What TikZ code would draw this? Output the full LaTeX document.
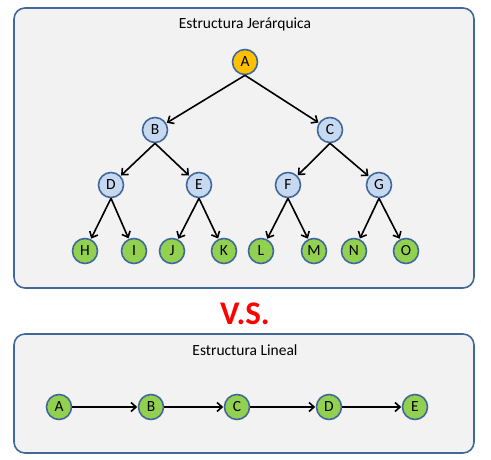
\documentclass[tikz,border=0pt]{standalone}
\usepackage{fontspec}
\setmainfont{Carlito}
\usetikzlibrary{arrows.meta}
\definecolor{boxline}{HTML}{41689A}
\definecolor{boxfill}{HTML}{F2F2F2}
\definecolor{rootfill}{HTML}{FFC000}
\definecolor{innerfill}{HTML}{C6D9F1}
\definecolor{leaffill}{HTML}{92D050}
\tikzset{
  panel/.style={draw=boxline, line width=1.6pt, fill=boxfill, rounded corners=11pt},
  vertex/.style={circle, draw=boxline, line width=1.6pt, minimum size=25pt, inner sep=0pt, font=\fontsize{15.5}{17}\selectfont},
  rootv/.style={vertex, fill=rootfill},
  innerv/.style={vertex, fill=innerfill},
  leafv/.style={vertex, fill=leaffill},
  link/.style={line width=1.6pt, -{Straight Barb[length=5pt, width=9pt, line width=1.6pt]}, shorten >=0.5pt}
}
\begin{document}
\begin{tikzpicture}[x=1pt, y=-1pt]
            \useasboundingbox (0,0) rectangle (491,460);
            {\fontsize{15.5}{17}\selectfont

            % Drawing panel of the tree
            \draw [panel] (14,8) rectangle (474,288);
            \node (treetitle) at (245,24) { Estructura Jerárquica };

            % Marking vertices of the tree
            \node [rootv]  (tA) at (245,62)  { A };
            \node [innerv] (tB) at (155,130) { B };
            \node [innerv] (tC) at (330,130) { C };
            \node [innerv] (tD) at (111,185) { D };
            \node [innerv] (tE) at (199,185) { E };
            \node [innerv] (tF) at (288,185) { F };
            \node [innerv] (tG) at (379,185) { G };
            \node [leafv]  (tH) at (85,251)  { H };
            \node [leafv]  (tI) at (134,251) { I };
            \node [leafv]  (tJ) at (172,251) { J };
            \node [leafv]  (tK) at (224,251) { K };
            \node [leafv]  (tL) at (261,251) { L };
            \node [leafv]  (tM) at (314,251) { M };
            \node [leafv]  (tN) at (354,251) { N };
            \node [leafv]  (tO) at (406,251) { O };

            % Drawing edges of the tree
            \draw [link] (tA.south) -- (tB);
            \draw [link] (tA.south) -- (tC);
            \draw [link] (tB.south) -- (tD);
            \draw [link] (tB.south) -- (tE);
            \draw [link] (tC.south) -- (tF);
            \draw [link] (tC.south) -- (tG);
            \draw [link] (tD.south) -- (tH);
            \draw [link] (tD.south) -- (tI);
            \draw [link] (tE.south) -- (tJ);
            \draw [link] (tE.south) -- (tK);
            \draw [link] (tF.south) -- (tL);
            \draw [link] (tF.south) -- (tM);
            \draw [link] (tG.south) -- (tN);
            \draw [link] (tG.south) -- (tO);

            % Marking the versus
            \node [text=red, font=\fontsize{33}{36}\selectfont\bfseries] (versus) at (245,314) { V.S. };

            % Drawing panel of the line
            \draw [panel] (14,334) rectangle (474,453);
            \node (linetitle) at (245,350) { Estructura Lineal };

            % Marking vertices of the line
            \node [leafv] (lA) at (59,407)  { A };
            \node [leafv] (lB) at (151,407) { B };
            \node [leafv] (lC) at (237,407) { C };
            \node [leafv] (lD) at (329,407) { D };
            \node [leafv] (lE) at (415,407) { E };

            % Drawing edges of the line
            \draw [link] (lA) -- (lB);
            \draw [link] (lB) -- (lC);
            \draw [link] (lC) -- (lD);
            \draw [link] (lD) -- (lE);
            }
        \end{tikzpicture}
\end{document}
